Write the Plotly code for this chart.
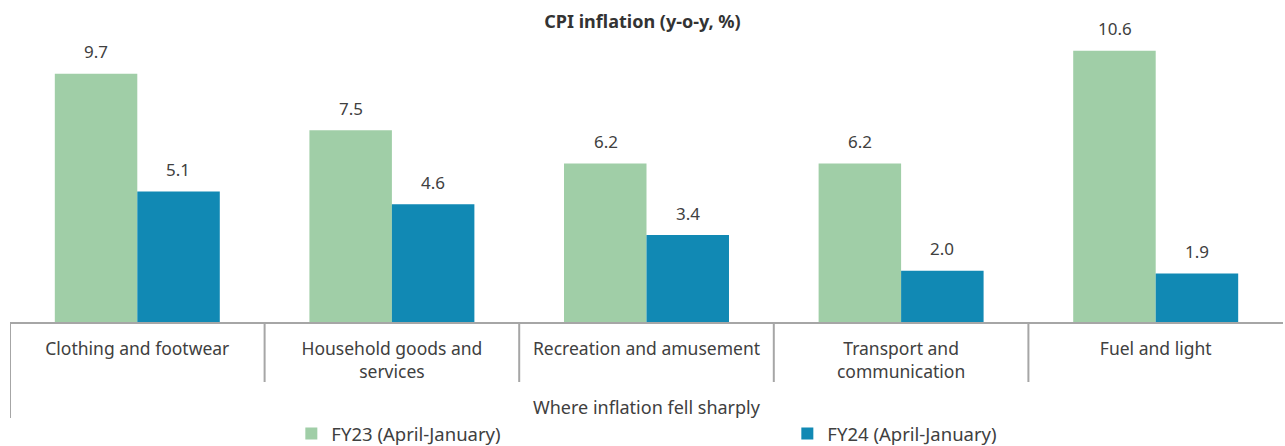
import plotly.graph_objects as go

categories = ["Clothing and footwear", "Household goods and<br>services",
              "Recreation and amusement", "Transport and<br>communication",
              "Fuel and light"]
fy23 = [9.7, 7.5, 6.2, 6.2, 10.6]
fy24 = [5.1, 4.6, 3.4, 2.0, 1.9]
series_names = ["FY23 (April-January)", "FY24 (April-January)"]
group_label = "Where inflation fell sharply"
title_text = "<b>CPI inflation (y-o-y, %)</b>"

GREEN = "#A0CEA7"
BLUE = "#1189B4"
TEXT = "#404040"
LINE = "#A6A6A6"
FONT = "Noto Sans"

H_PLOT = 307  # plot height in px

fig = go.Figure()
fig.add_trace(go.Bar(x=categories, y=fy23, name=series_names[0],
                     marker=dict(color=GREEN, line=dict(width=0))))
fig.add_trace(go.Bar(x=categories, y=fy24, name=series_names[1],
                     marker=dict(color=BLUE, line=dict(width=0))))

annotations = []
for cat, v in zip(categories, fy23):
    annotations.append(dict(x=cat, y=v, xref="x", yref="y", text=f"{v:.1f}",
                            showarrow=False, xshift=-41, yshift=22, yanchor="middle",
                            font=dict(size=17, color=TEXT, family=FONT)))
for cat, v in zip(categories, fy24):
    annotations.append(dict(x=cat, y=v, xref="x", yref="y", text=f"{v:.1f}",
                            showarrow=False, xshift=41, yshift=22, yanchor="middle",
                            font=dict(size=17, color=TEXT, family=FONT)))
annotations.append(dict(x=0.5, y=-85 / H_PLOT, xref="paper", yref="paper",
                        text=group_label, showarrow=False, yanchor="middle",
                        font=dict(size=18, color=TEXT, family=FONT)))

shapes = []
for i in range(1, len(categories)):
    shapes.append(dict(type="line", xref="x", yref="paper", x0=i - 0.5, x1=i - 0.5,
                       y0=0, y1=-60 / H_PLOT, line=dict(color=LINE, width=2)))
shapes.append(dict(type="line", xref="x", yref="paper", x0=-0.5, x1=-0.5,
                   y0=0, y1=-96 / H_PLOT, line=dict(color=LINE, width=2)))

fig.update_layout(
    width=1285, height=446,
    margin=dict(l=10, r=2, t=15, b=124, autoexpand=False),
    paper_bgcolor="white", plot_bgcolor="white",
    barmode="group", bargap=0.352, bargroupgap=0,
    font=dict(family=FONT, size=17, color=TEXT),
    title=dict(text=title_text, x=0.5, xanchor="center", y=1 - 22 / 446,
               yanchor="middle", font=dict(size=18, color="#333333", family=FONT)),
    xaxis=dict(type="category", range=[-0.5, 4.5], showline=True, linecolor=LINE,
               linewidth=2, ticks="outside", ticklen=10, tickcolor="rgba(0,0,0,0)",
               tickfont=dict(size=17.5, color=TEXT, family=FONT), showgrid=False,
               zeroline=False, automargin=False, fixedrange=True),
    yaxis=dict(range=[0, 12], visible=False, showgrid=False, zeroline=False,
               fixedrange=True),
    legend=dict(orientation="h", x=0.221, y=-93 / H_PLOT, xanchor="left", yanchor="top",
                entrywidth=451, itemwidth=30, bgcolor="rgba(0,0,0,0)",
                font=dict(size=18.5, color=TEXT, family=FONT)),
    annotations=annotations,
    shapes=shapes,
)

fig.write_html("out.html", config={"displayModeBar": False},
               post_script="document.body.style.margin='0';document.body.style.overflow='hidden';")
